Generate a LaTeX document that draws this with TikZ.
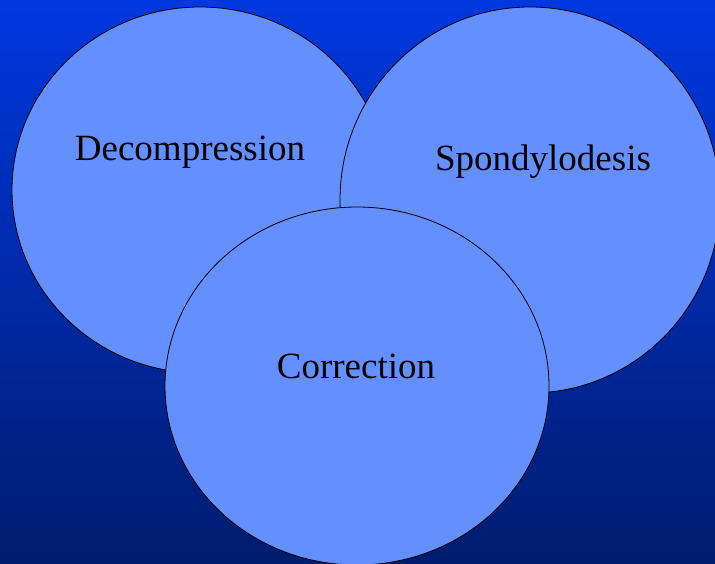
\documentclass[tikz,border=0pt]{standalone}
\usepackage{fontspec}
\setmainfont{Liberation Serif}
\usetikzlibrary{shapes.geometric}
\definecolor{topblue}{RGB}{0,56,224}
\definecolor{bottomblue}{RGB}{0,28,110}
\definecolor{discblue}{RGB}{100,143,255}
\tikzset{
    disc/.style={ellipse,draw=black,line width=0.8pt,fill=discblue,inner sep=0pt},
    word/.style={font=\fontsize{37}{44}\selectfont,anchor=base,inner sep=0pt}
}
\begin{document}
\begin{tikzpicture}[x=1pt,y=-1pt]
    \useasboundingbox (0,0) rectangle (715,564);
    \shade[top color=topblue,bottom color=bottomblue] (0,0) rectangle (715,564);
    \node[disc,minimum width=376pt,minimum height=366pt] (decomp) at (200,190) {};
    \node[disc,minimum width=380pt,minimum height=386pt] (spondy) at (530,200) {};
    \node[disc,minimum width=384pt,minimum height=358pt] (correct) at (357,386) {};
    \node[word] (decomptext) at (190,161) {Decompression};
    \node[word] (spondytext) at (543,171) {Spondylodesis};
    \node[word] (correcttext) at (356,378) {Correction};
\end{tikzpicture}
\end{document}
